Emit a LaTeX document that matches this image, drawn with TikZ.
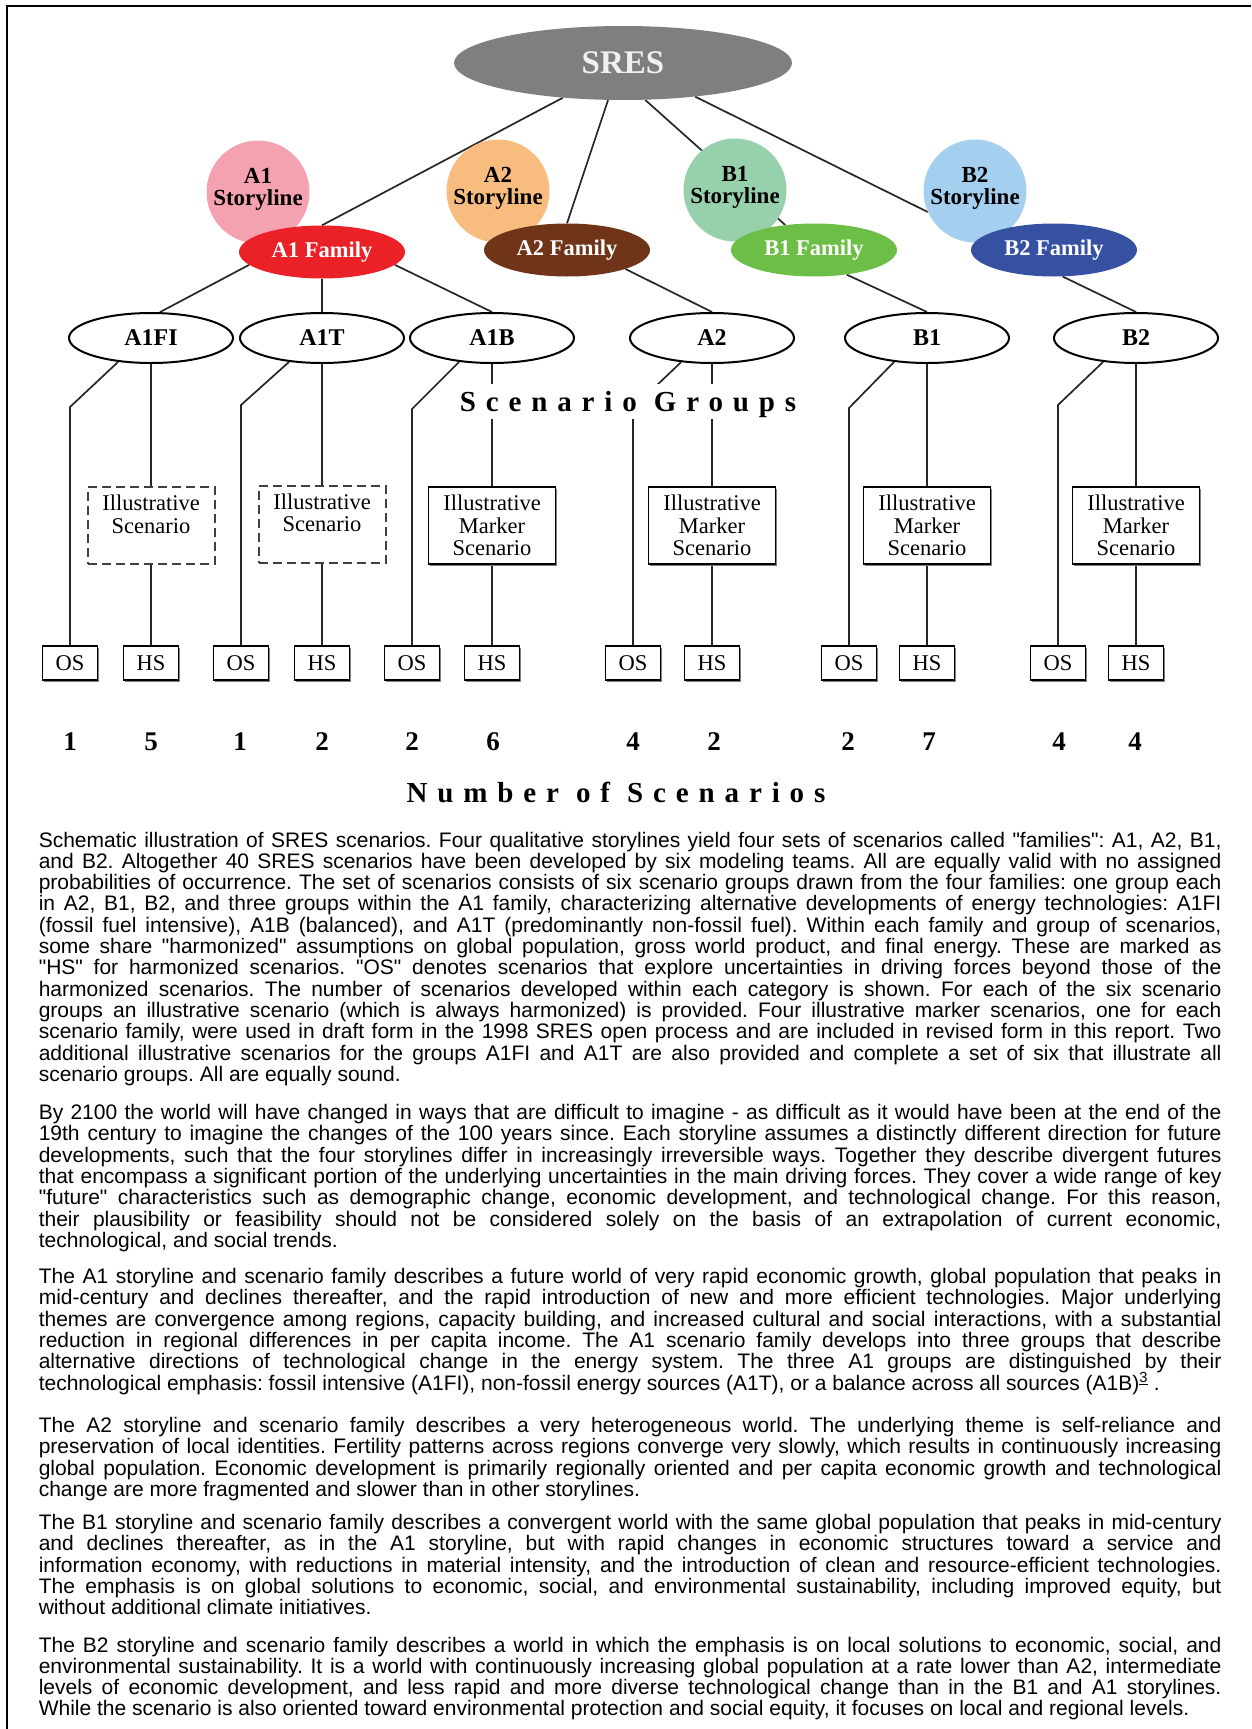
\documentclass[tikz,border=0pt]{standalone}
\usepackage{fontspec}
\setmainfont{Liberation Serif}
\newfontfamily\parafont[Ligatures=TeXOff]{Liberation Sans}
\newfontfamily\spacedfont[LetterSpace=34]{Liberation Serif}
\usetikzlibrary{shapes.geometric,shadows,backgrounds}
\definecolor{sresgray}{HTML}{7F7F7F}
\definecolor{a1sc}{HTML}{F4A1B0}
\definecolor{a2sc}{HTML}{F7BC7E}
\definecolor{b1sc}{HTML}{97D1AC}
\definecolor{b2sc}{HTML}{A5CFEF}
\definecolor{a1fc}{HTML}{EB2128}
\definecolor{a2fc}{HTML}{703419}
\definecolor{b1fc}{HTML}{6CBE46}
\definecolor{b2fc}{HTML}{3650A2}
\newlength\paraw \setlength\paraw{1182.7pt}
\newcommand\fullln[1]{\hbox to \paraw{#1}}
\newcommand\lastln[1]{\hbox{#1}}
\newcommand\parablock[1]{\vtop{\hsize=\paraw\parafont\fontsize{21}{21.3}\selectfont\frenchspacing\baselineskip=21.3pt\lineskiplimit=-100pt\lineskip=0pt #1}}
\begin{document}
\begin{tikzpicture}[x=1pt,y=-1pt,
  conn/.style={draw=black!85, line width=1.7pt},
  storyl/.style={circle, minimum size=103pt, inner sep=0pt, align=center, text=black, font=\bfseries\fontsize{23}{22}\selectfont},
  famil/.style={ellipse, minimum width=166pt, minimum height=53pt, inner sep=0pt, text=white, font=\bfseries\fontsize{22.5}{24}\selectfont},
  grp/.style={ellipse, draw=black, line width=2pt, fill=white, minimum width=164pt, minimum height=50pt, inner sep=0pt, font=\bfseries\fontsize{24}{26}\selectfont},
  boxshadow/.style={drop shadow={shadow xshift=1.3pt, shadow yshift=-1.8pt, fill=black!50, opacity=1}},
  smallbox/.style={rectangle, draw=black, line width=1.6pt, fill=white, minimum width=55pt, minimum height=34pt, inner sep=0pt, font=\fontsize{22.5}{24}\selectfont, boxshadow},
  illbox/.style={rectangle, draw=black, line width=1.6pt, fill=white, minimum width=127pt, minimum height=77pt, inner sep=0pt, align=center, font=\fontsize{22.5}{22.5}\selectfont, boxshadow},
  dashbox/.style={rectangle, draw=black!75, line width=2pt, dash pattern=on 9pt off 5pt, fill=white, minimum width=127pt, minimum height=77pt, inner sep=0pt, align=center, font=\fontsize{22.5}{22.5}\selectfont},
  numlab/.style={anchor=base, inner sep=0pt, font=\bfseries\fontsize{27}{28}\selectfont},
  bigtitle/.style={anchor=base, inner sep=0pt, font=\spacedfont\bfseries\fontsize{29}{30}\selectfont},
  paranode/.style={anchor=base west, inner sep=0pt}
]
\useasboundingbox (0,0) rectangle (1251,1729);
\draw[line width=2pt] (7,1729) -- (7,6) -- (1251,6);

% top level
\node[ellipse, fill=sresgray, minimum width=338pt, minimum height=74pt, inner sep=0pt, text=white!94!black, font=\bfseries\fontsize{33}{34}\selectfont] (sres) at (623,63) {SRES};

% storylines
\node[storyl, fill=a1sc] (a1s) at (258,192) {A1\\Storyline\rule[-10pt]{0pt}{0pt}};
\node[storyl, fill=a2sc] (a2s) at (498,191) {A2\\Storyline\rule[-10pt]{0pt}{0pt}};
\node[storyl, fill=b1sc] (b1s) at (735,190) {B1\\Storyline\rule[-10pt]{0pt}{0pt}};
\node[storyl, fill=b2sc] (b2s) at (975,191) {B2\\Storyline\rule[-10pt]{0pt}{0pt}};

% families
\node[famil, fill=a1fc] (a1f) at (322,252) {A1 Family};
\node[famil, fill=a2fc] (a2f) at (567,250) {A2 Family};
\node[famil, fill=b1fc] (b1f) at (814,250) {B1 Family};
\node[famil, fill=b2fc] (b2f) at (1054,250) {B2 Family};

% scenario groups
\node[grp] (ga1fi) at (151,338) {A1FI};
\node[grp] (ga1t) at (322,338) {A1T};
\node[grp] (ga1b) at (492,338) {A1B};
\node[grp] (ga2) at (712,338) {A2};
\node[grp] (gb1) at (927,338) {B1};
\node[grp] (gb2) at (1136,338) {B2};

% illustrative boxes
\node[dashbox] (i1) at (151,525.5) {Illustrative\\Scenario\\\phantom{Scenario}};
\node[dashbox] (i2) at (322,524) {Illustrative\\Scenario\\\phantom{Scenario}};
\node[illbox] (i3) at (492,525.5) {Illustrative\\Marker\\Scenario};
\node[illbox] (i4) at (712,525.5) {Illustrative\\Marker\\Scenario};
\node[illbox] (i5) at (927,525.5) {Illustrative\\Marker\\Scenario};
\node[illbox] (i6) at (1136,525.5) {Illustrative\\Marker\\Scenario};

% OS / HS boxes
\node[smallbox] (os1) at (70,663) {OS};
\node[smallbox] (hs1) at (151,663) {HS};
\node[smallbox] (os2) at (241,663) {OS};
\node[smallbox] (hs2) at (322,663) {HS};
\node[smallbox] (os3) at (412,663) {OS};
\node[smallbox] (hs3) at (492,663) {HS};
\node[smallbox] (os4) at (633,663) {OS};
\node[smallbox] (hs4) at (712,663) {HS};
\node[smallbox] (os5) at (849,663) {OS};
\node[smallbox] (hs5) at (927,663) {HS};
\node[smallbox] (os6) at (1058,663) {OS};
\node[smallbox] (hs6) at (1136,663) {HS};

% corners
\coordinate (c1) at (70,407);
\coordinate (c2) at (241,405);
\coordinate (c3) at (412,409);
\coordinate (c4) at (633,408);
\coordinate (c5) at (849,408);
\coordinate (c6) at (1058,405);

% labels
\node[anchor=base, fill=white, inner xsep=5pt, inner ysep=0pt, text height=27.7pt, text depth=7.3pt, font=\spacedfont\bfseries\fontsize{29}{30}\selectfont] (sg) at (628,411.7) {Scenario Groups};

\node[numlab] (n1) at (70,750) {1};
\node[numlab] (n2) at (151,750) {5};
\node[numlab] (n3) at (240,750) {1};
\node[numlab] (n4) at (322,750) {2};
\node[numlab] (n5) at (412,750) {2};
\node[numlab] (n6) at (493,750) {6};
\node[numlab] (n7) at (633,750) {4};
\node[numlab] (n8) at (714,750) {2};
\node[numlab] (n9) at (848,750) {2};
\node[numlab] (n10) at (929,750) {7};
\node[numlab] (n11) at (1059,750) {4};
\node[numlab] (n12) at (1135,750) {4};

\node[bigtitle] (nos) at (616,802) {Number of Scenarios};

% connectors
\begin{scope}[on background layer]
\draw[conn] (sres.210) -- (a1f.north);
\draw[conn] (sres.248) -- (a2f.north);
\draw[conn] (sres.301) -- (b1f.139);
\draw[conn] (sres.335) -- (b2s.204);
\draw[conn] (a1f.190) -- (ga1fi.71);
\draw[conn] (a1f.south) -- (ga1t.north);
\draw[conn] (a1f.350) -- (ga1b.north);
\draw[conn] (a2f.342) -- (ga2.north);
\draw[conn] (b1f.323) -- (gb1.north);
\draw[conn] (b2f.288) -- (gb2.north);

\draw[conn] (ga1fi.216) -- (c1) -- (os1.north);
\draw[conn] (ga1t.216) -- (c2) -- (os2.north);
\draw[conn] (ga1b.216) -- (c3) -- (os3.north);
\draw[conn] (ga2.218) -- (c4) -- (os4.north);
\draw[conn] (gb1.216) -- (c5) -- (os5.north);
\draw[conn] (gb2.216) -- (c6) -- (os6.north);

\draw[conn] (ga1fi.south) -- (i1.north);
\draw[conn] (ga1t.south) -- (i2.north);
\draw[conn] (ga1b.south) -- (i3.north);
\draw[conn] (ga2.south) -- (i4.north);
\draw[conn] (gb1.south) -- (i5.north);
\draw[conn] (gb2.south) -- (i6.north);

\draw[conn] (i1.south) -- (hs1.north);
\draw[conn] (i2.south) -- (hs2.north);
\draw[conn] (i3.south) -- (hs3.north);
\draw[conn] (i4.south) -- (hs4.north);
\draw[conn] (i5.south) -- (hs5.north);
\draw[conn] (i6.south) -- (hs6.north);
\end{scope}

% caption text
\node[paranode] (p1) at (38.6,847) {\parablock{%
\fullln{Schematic illustration of SRES scenarios. Four qualitative storylines yield four sets of scenarios called "families": A1, A2, B1,}
\fullln{and B2. Altogether 40 SRES scenarios have been developed by six modeling teams. All are equally valid with no assigned}
\fullln{probabilities of occurrence. The set of scenarios consists of six scenario groups drawn from the four families: one group each}
\fullln{in A2, B1, B2, and three groups within the A1 family, characterizing alternative developments of energy technologies: A1FI}
\fullln{(fossil fuel intensive), A1B (balanced), and A1T (predominantly non-fossil fuel). Within each family and group of scenarios,}
\fullln{some share "harmonized" assumptions on global population, gross world product, and final energy. These are marked as}
\fullln{"HS" for harmonized scenarios. "OS" denotes scenarios that explore uncertainties in driving forces beyond those of the}
\fullln{harmonized scenarios. The number of scenarios developed within each category is shown. For each of the six scenario}
\fullln{groups an illustrative scenario (which is always harmonized) is provided. Four illustrative marker scenarios, one for each}
\fullln{scenario family, were used in draft form in the 1998 SRES open process and are included in revised form in this report. Two}
\fullln{additional illustrative scenarios for the groups A1FI and A1T are also provided and complete a set of six that illustrate all}
\lastln{scenario groups. All are equally sound.}}};

\node[paranode] (p2) at (38.6,1119.5) {\parablock{%
\fullln{By 2100 the world will have changed in ways that are difficult to imagine - as difficult as it would have been at the end of the}
\fullln{19th century to imagine the changes of the 100 years since. Each storyline assumes a distinctly different direction for future}
\fullln{developments, such that the four storylines differ in increasingly irreversible ways. Together they describe divergent futures}
\fullln{that encompass a significant portion of the underlying uncertainties in the main driving forces. They cover a wide range of key}
\fullln{"future" characteristics such as demographic change, economic development, and technological change. For this reason,}
\fullln{their plausibility or feasibility should not be considered solely on the basis of an extrapolation of current economic,}
\lastln{technological, and social trends.}}};

\node[paranode] (p3) at (38.6,1283.5) {\parablock{%
\fullln{The A1 storyline and scenario family describes a future world of very rapid economic growth, global population that peaks in}
\fullln{mid-century and declines thereafter, and the rapid introduction of new and more efficient technologies. Major underlying}
\fullln{themes are convergence among regions, capacity building, and increased cultural and social interactions, with a substantial}
\fullln{reduction in regional differences in per capita income. The A1 scenario family develops into three groups that describe}
\fullln{alternative directions of technological change in the energy system. The three A1 groups are distinguished by their}
\lastln{technological emphasis: fossil intensive (A1FI), non-fossil energy sources (A1T), or a balance across all sources (A1B)\textsuperscript{\underline{3}} .}}};

\node[paranode] (p4) at (38.6,1432.5) {\parablock{%
\fullln{The A2 storyline and scenario family describes a very heterogeneous world. The underlying theme is self-reliance and}
\fullln{preservation of local identities. Fertility patterns across regions converge very slowly, which results in continuously increasing}
\fullln{global population. Economic development is primarily regionally oriented and per capita economic growth and technological}
\lastln{change are more fragmented and slower than in other storylines.}}};

\node[paranode] (p5) at (38.6,1529.5) {\parablock{%
\fullln{The B1 storyline and scenario family describes a convergent world with the same global population that peaks in mid-century}
\fullln{and declines thereafter, as in the A1 storyline, but with rapid changes in economic structures toward a service and}
\fullln{information economy, with reductions in material intensity, and the introduction of clean and resource-efficient technologies.}
\fullln{The emphasis is on global solutions to economic, social, and environmental sustainability, including improved equity, but}
\lastln{without additional climate initiatives.}}};

\node[paranode] (p6) at (38.6,1652) {\parablock{%
\fullln{The B2 storyline and scenario family describes a world in which the emphasis is on local solutions to economic, social, and}
\fullln{environmental sustainability. It is a world with continuously increasing global population at a rate lower than A2, intermediate}
\fullln{levels of economic development, and less rapid and more diverse technological change than in the B1 and A1 storylines.}
\lastln{While the scenario is also oriented toward environmental protection and social equity, it focuses on local and regional levels.}}};
\end{tikzpicture}
\end{document}
